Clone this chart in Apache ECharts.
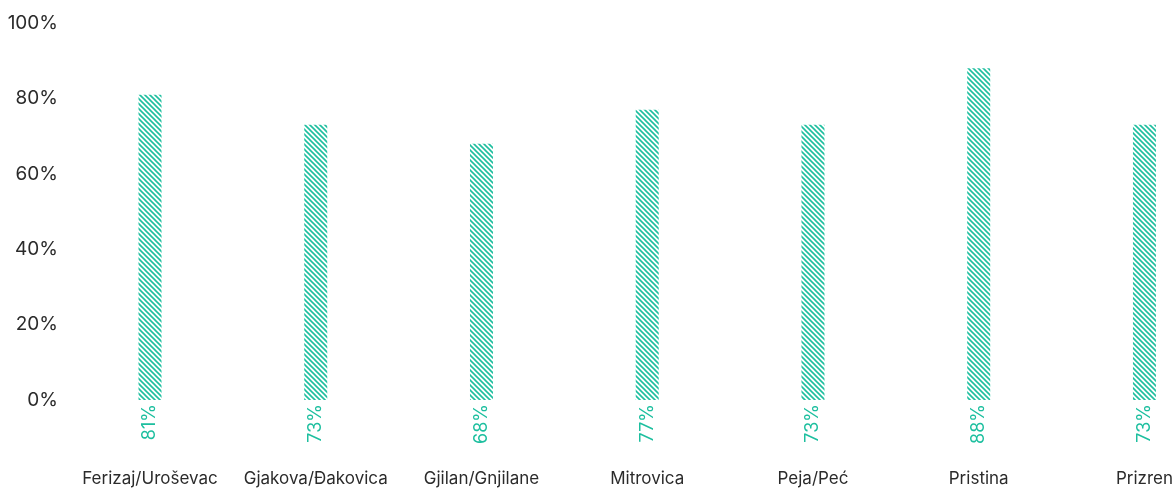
<!DOCTYPE html>
<html>
<head>
<meta charset="utf-8">
<script src="https://cdn.jsdelivr.net/npm/echarts@6/dist/echarts.min.js"></script>
<style>
  html, body { margin: 0; padding: 0; background: #ffffff; }
  #chart { width: 1176px; height: 490px; }
</style>
</head>
<body>
<div id="chart"></div>
<script>
// Share of respondents per municipality
const cities = ['Ferizaj/Uroševac', 'Gjakova/Đakovica', 'Gjilan/Gnjilane', 'Mitrovica', 'Peja/Peć', 'Pristina', 'Prizren'];
const shares = [81, 73, 68, 77, 73, 88, 73];
const yTicks = [0, 20, 40, 60, 80, 100];

const TEAL = '#1dbf9f';
const FONT = 'Inter, Roboto, sans-serif';

// Diagonal hatch tile used to fill the bars
function hatchTile() {
  const s = 5;
  const c = document.createElement('canvas');
  c.width = s; c.height = s;
  const g = c.getContext('2d');
  g.fillStyle = '#ffffff';
  g.fillRect(0, 0, s, s);
  g.strokeStyle = TEAL;
  g.lineWidth = 1.6;
  g.beginPath();
  g.moveTo(-1, -1); g.lineTo(s + 1, s + 1);
  g.moveTo(-1, s - 1); g.lineTo(1, s + 1);
  g.moveTo(s - 1, -1); g.lineTo(s + 1, 1);
  g.stroke();
  return c;
}

const chart = echarts.init(document.getElementById('chart'), null, { renderer: 'canvas' });
chart.setOption({
  animation: false,
  grid: { left: 150, right: 27, top: 23, bottom: 90 },
  xAxis: {
    type: 'category',
    data: cities,
    boundaryGap: false,
    axisLine: { show: false },
    axisTick: { show: false },
    axisLabel: {
      interval: 0,
      margin: 70,
      color: '#2b2b2b',
      fontSize: 17,
      fontFamily: FONT
    },
    splitLine: { show: false }
  },
  yAxis: {
    type: 'value',
    min: yTicks[0],
    max: yTicks[yTicks.length - 1],
    interval: yTicks[1] - yTicks[0],
    axisLine: { show: false },
    axisTick: { show: false },
    splitLine: { show: false },
    axisLabel: {
      margin: 92,
      color: '#2b2b2b',
      fontSize: 19,
      fontFamily: FONT,
      formatter: '{value}%'
    }
  },
  series: [{
    type: 'bar',
    data: shares,
    barWidth: 23,
    itemStyle: {
      color: { image: hatchTile(), repeat: 'repeat' }
    },
    label: {
      show: true,
      position: 'bottom',
      distance: 4,
      rotate: 90,
      align: 'right',
      verticalAlign: 'middle',
      color: TEAL,
      fontSize: 18,
      fontFamily: FONT,
      formatter: '{c}%'
    }
  }]
});
</script>
</body>
</html>
